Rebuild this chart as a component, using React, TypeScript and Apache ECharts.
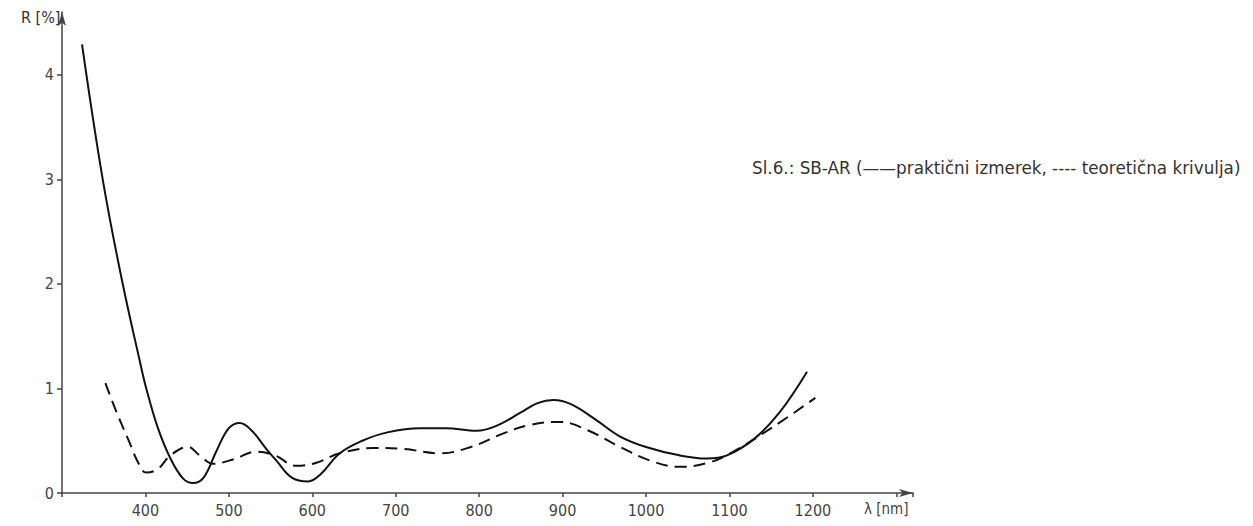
import React, { useEffect, useRef } from "react";
import * as echarts from "echarts";

const practicalMeasured: [number, number][] = [
  [324, 4.29], [349, 2.99], [372, 2.03], [393, 1.27], [401, 1.0], [415, 0.62],
  [430, 0.33], [445, 0.14], [457, 0.095], [470, 0.15], [485, 0.4], [500, 0.62],
  [513, 0.67], [527, 0.6], [545, 0.42], [557, 0.31], [575, 0.15], [595, 0.11],
  [610, 0.18], [633, 0.38], [660, 0.5], [690, 0.58], [729, 0.62], [760, 0.62],
  [797, 0.595], [820, 0.64], [850, 0.77], [870, 0.86], [889, 0.89], [910, 0.85],
  [940, 0.7], [969, 0.54], [1000, 0.44], [1040, 0.36], [1073, 0.33], [1097, 0.36],
  [1130, 0.52], [1160, 0.77], [1193, 1.16],
];

const theoreticalCurve: [number, number][] = [
  [352, 1.05], [365, 0.78], [380, 0.5], [392, 0.28], [401, 0.195], [415, 0.23],
  [430, 0.36], [451, 0.44], [465, 0.36], [481, 0.28], [505, 0.32], [533, 0.395],
  [555, 0.36], [581, 0.26], [605, 0.29], [633, 0.38], [673, 0.43], [710, 0.42],
  [753, 0.38], [790, 0.44], [829, 0.57], [860, 0.65], [897, 0.68], [930, 0.6],
  [969, 0.44], [1005, 0.31], [1041, 0.25], [1075, 0.29], [1101, 0.38], [1150, 0.62],
  [1203, 0.91],
];

const xTickLabels = ["400", "500", "600", "700", "800", "900", "1000", "1100", "1200"];
const yTickLabels = ["0", "1", "2", "3", "4"];

const FONT = "'DejaVu Sans Condensed', 'Liberation Sans Narrow', sans-serif";

export default function App() {
  const ref = useRef<HTMLDivElement>(null);
  useEffect(() => {
    if (!ref.current) return;
    const chart = echarts.init(ref.current, undefined, { renderer: "svg" });
    chart.setOption({
      animation: false,
      backgroundColor: "#ffffff",
      grid: { left: 62, right: 340, top: 12, bottom: 33, containLabel: false },
      xAxis: {
        type: "value",
        min: 300,
        max: 1320,
        interval: 100,
        axisLine: {
          show: true,
          lineStyle: { color: "#444", width: 1.5 },
          symbol: ["none", "arrow"],
          symbolSize: [6, 14],
        },
        axisTick: { show: true, length: 4, lineStyle: { color: "#444", width: 1.5 } },
        axisLabel: {
          color: "#444",
          fontSize: 16,
          fontFamily: FONT,
          margin: 9,
          formatter: (v: number) => {
            const s = String(v);
            return xTickLabels.includes(s) ? s : "";
          },
        },
        splitLine: { show: false },
      },
      yAxis: {
        type: "value",
        min: 0,
        max: 4.6,
        interval: 1,
        axisLine: {
          show: true,
          onZero: false,
          lineStyle: { color: "#444", width: 1.5 },
          symbol: ["none", "arrow"],
          symbolSize: [6, 14],
        },
        axisTick: { show: true, length: 5, lineStyle: { color: "#444", width: 1.5 } },
        axisLabel: {
          color: "#444",
          fontSize: 16,
          fontFamily: FONT,
          margin: 8,
          showMaxLabel: false,
          formatter: (v: number) => {
            const s = String(v);
            return yTickLabels.includes(s) ? s : "";
          },
        },
        splitLine: { show: false },
      },
      series: [
        {
          name: "praktični izmerek",
          type: "line",
          data: practicalMeasured,
          smooth: 0.4,
          symbol: "none",
          lineStyle: { color: "#111", width: 2 },
        },
        {
          name: "teoretična krivulja",
          type: "line",
          data: theoreticalCurve,
          smooth: 0.4,
          symbol: "none",
          lineStyle: { color: "#111", width: 2, type: [12, 7] },
        },
      ],
      graphic: [
        {
          type: "text",
          left: 21,
          top: 9,
          style: { text: "R [%]", fontSize: 16, fontFamily: FONT, fill: "#333" },
        },
        {
          type: "text",
          left: 864,
          top: 501,
          style: { text: "λ [nm]", fontSize: 15, fontFamily: FONT, fill: "#444" },
        },
        {
          type: "text",
          left: 752,
          top: 159,
          style: {
            text: "Sl.6.: SB-AR (——praktični izmerek, ---- teoretična krivulja)",
            fontSize: 16.8,
            fontFamily: "'DejaVu Sans', sans-serif",
            fill: "#333",
          },
        },
      ],
    });
    return () => chart.dispose();
  }, []);
  return (
    <div
      ref={ref}
      style={{ position: "fixed", left: 0, top: 0, width: 1253, height: 526, background: "#fff" }}
    />
  );
}
